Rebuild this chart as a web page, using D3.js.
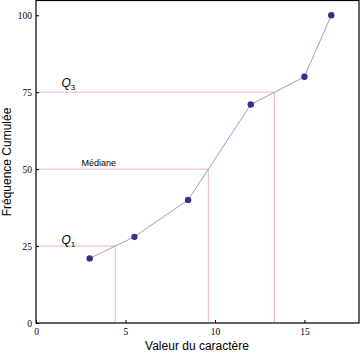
<!DOCTYPE html>
<html><head><meta charset="utf-8">
<script src="https://cdn.jsdelivr.net/npm/d3@7"></script>
<style>body{margin:0;background:#fff}svg{display:block}</style>
</head><body>
<svg id="c" width="360" height="356"></svg>
<script>
const xValues = [3, 5.5, 8.5, 12, 15, 16.5];
const yValues = [21, 28, 40, 71, 80, 100];
const quartileX = [4.43, 9.63, 13.33];
const quartileY = [25, 50, 75];
const xTicks = [0, 5, 10, 15];
const yTicks = [0, 25, 50, 75, 100];

const svg = d3.select("#c");
const L = 36, R = 359, T = 0.5, B = 323;
const x = d3.scaleLinear().domain([0, 18.05]).range([L, R]);
const y = d3.scaleLinear().domain([0, 104.8]).range([B, T]);

// quartile guide lines
const g = svg.append("g").attr("stroke", "#f2b3b8").attr("stroke-width", 1).attr("fill", "none");
quartileX.forEach((qx, i) => {
  g.append("path").attr("d", d3.line()([[x(0), y(quartileY[i])], [x(qx), y(quartileY[i])], [x(qx), y(0)]]));
});

// frame
svg.append("rect").attr("x", L).attr("y", T).attr("width", R - L).attr("height", B - T)
  .attr("fill", "none").attr("stroke", "#000").attr("stroke-width", 1.2);

// axes
const xa = svg.append("g").attr("transform", `translate(0,${B})`)
  .call(d3.axisBottom(x).tickValues(xTicks).tickSize(-3).tickPadding(5).tickFormat(d3.format("d")));
const ya = svg.append("g").attr("transform", `translate(${L},0)`)
  .call(d3.axisLeft(y).tickValues(yTicks).tickSize(-3).tickPadding(4).tickFormat(d3.format("d")));
[xa, ya].forEach(a => {
  a.select(".domain").remove();
  a.selectAll("text").attr("font-family", "Liberation Serif").attr("font-size", 9.5).attr("fill", "#000");
  a.selectAll("line").attr("stroke", "#000");
});

// line
svg.append("path").datum(xValues.map((v, i) => [v, yValues[i]]))
  .attr("d", d3.line().x(d => x(d[0])).y(d => y(d[1])))
  .attr("fill", "none").attr("stroke", "#9b9bd0").attr("stroke-width", 1);

svg.append("g").selectAll("circle").data(xValues).join("circle")
  .attr("cx", d => x(d)).attr("cy", (d, i) => y(yValues[i])).attr("r", 3.2)
  .attr("fill", "#33338a");

// labels
function qLabel(px, py, sub) {
  const t = svg.append("text").attr("x", px).attr("y", py)
    .attr("font-family", "Liberation Sans").attr("font-size", 12).attr("font-style", "italic");
  t.append("tspan").text("Q");
  t.append("tspan").attr("font-size", 8).attr("font-style", "normal").attr("dy", 3).text(sub);
}
qLabel(61.5, 87, "3");
qLabel(61.5, 243.5, "1");
svg.append("text").attr("x", 81.5).attr("y", 165.5).attr("font-family", "Liberation Sans")
  .attr("font-size", 9).text("Médiane");

svg.append("text").attr("x", 197).attr("y", 350).attr("text-anchor", "middle")
  .attr("font-family", "Liberation Sans").attr("font-size", 12).text("Valeur du caractère");
svg.append("text").attr("transform", "translate(11,162) rotate(-90)").attr("text-anchor", "middle")
  .attr("font-family", "Liberation Sans").attr("font-size", 12).text("Fréquence Cumulée");
</script>
</body></html>
